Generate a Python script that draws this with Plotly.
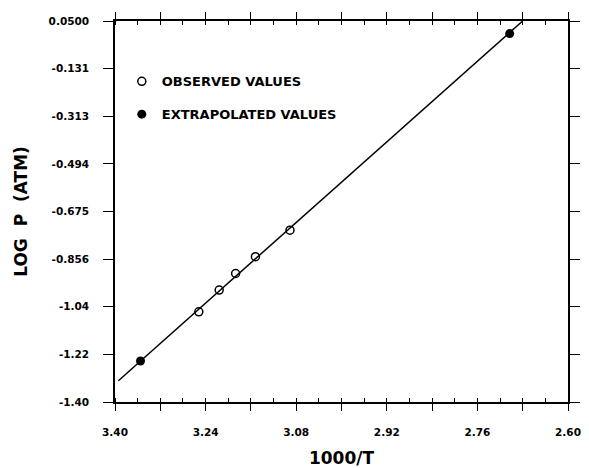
import plotly.graph_objects as go

# Observed values (1000/T, log P)
obs_x = [3.252, 3.216, 3.187, 3.152, 3.091]
obs_y = [-1.057, -0.974, -0.911, -0.847, -0.746]

# Extrapolated values
ext_x = [3.355, 2.703]
ext_y = [-1.244, 0.002]

# Fitted line end points
fit_x = [3.394, 2.680]
fit_y = [-1.319, 0.050]

x_tickvals = [3.40, 3.32, 3.24, 3.16, 3.08, 3.00, 2.92, 2.84, 2.76, 2.68, 2.60]
x_ticktext = ["3.40", "", "3.24", "", "3.08", "", "2.92", "", "2.76", "", "2.60"]
y_tickvals = [0.05, -0.13125, -0.3125, -0.49375, -0.675, -0.85625, -1.0375, -1.21875, -1.40]
y_ticktext = ["0.0500", "-0.131", "-0.313", "-0.494", "-0.675", "-0.856", "-1.04", "-1.22", "-1.40"]

FONT = "DejaVu Sans"

fig = go.Figure()
fig.add_trace(go.Scatter(x=fit_x, y=fit_y, mode="lines",
                         line=dict(color="black", width=1.5), showlegend=False,
                         hoverinfo="skip"))
fig.add_trace(go.Scatter(x=obs_x, y=obs_y, mode="markers", name="OBSERVED VALUES",
                         legendgroup="a",
                         marker=dict(symbol="circle-open", size=8, color="black",
                                     line=dict(width=1.5, color="black"))))
fig.add_trace(go.Scatter(x=ext_x, y=ext_y, mode="markers", name="EXTRAPOLATED VALUES",
                         legendgroup="b",
                         marker=dict(symbol="circle", size=9, color="black")))

fig.update_layout(
    width=581, height=460,
    margin=dict(l=107, r=21, t=13, b=66, autoexpand=False),
    plot_bgcolor="white", paper_bgcolor="white",
    showlegend=True,
    legend=dict(x=0.015, y=0.881, xanchor="left", yanchor="top",
                bgcolor="rgba(0,0,0,0)", tracegroupgap=13,
                font=dict(family=FONT, size=13, color="black", weight="bold")),
    font=dict(family=FONT, color="black"),
)

fig.update_xaxes(
    range=[3.40, 2.60], autorange=False, automargin=False,
    tickmode="array", tickvals=x_tickvals, ticktext=x_ticktext,
    ticks="outside", ticklen=7, tickwidth=1.2, tickcolor="black",
    minor=dict(tickmode="linear", tick0=3.40, dtick=0.04, ticks="inside",
               ticklen=4, tickwidth=1.2, tickcolor="black", showgrid=False),
    showline=True, linecolor="black", linewidth=1.5, mirror="ticks",
    showgrid=False, zeroline=False,
    tickfont=dict(family=FONT, size=10.5, color="black", weight="bold"),
    ticklabelstandoff=13, ticklabeloverflow="allow",
    title=dict(text="1000/T", standoff=27,
               font=dict(family=FONT, size=17, color="black", weight="bold")),
)
fig.update_yaxes(
    range=[-1.40, 0.05], autorange=False, automargin=False,
    tickmode="array", tickvals=y_tickvals, ticktext=y_ticktext,
    ticks="outside", ticklen=10, tickwidth=1.2, tickcolor="black",
    showline=True, linecolor="black", linewidth=1.5, mirror="ticks",
    showgrid=False, zeroline=False,
    tickfont=dict(family=FONT, size=10.5, color="black", weight="bold"),
    ticklabelstandoff=12,
    title=dict(text="LOG  P  (ATM)", standoff=17,
               font=dict(family=FONT, size=17, color="black", weight="bold")),
)

fig.write_html("out.html")
